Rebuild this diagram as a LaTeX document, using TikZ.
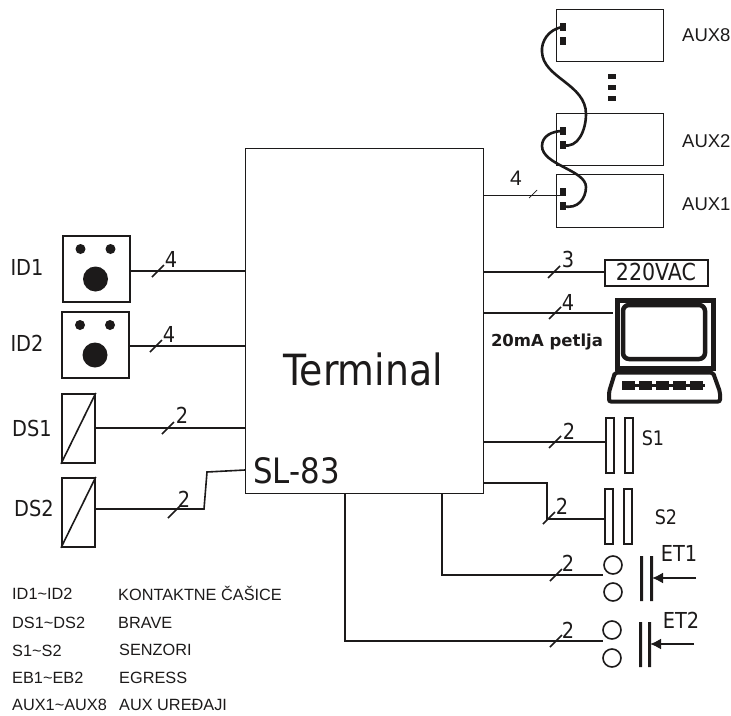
\documentclass[tikz,border=0pt]{standalone}
\usepackage{fontspec}
\setmainfont{Liberation Sans}
\newfontfamily\tahfont{DejaVu Sans}[FakeStretch=0.88]
\newfontfamily\wideboldfont{DejaVu Sans}
\usepackage{tikz}
\usetikzlibrary{arrows.meta,positioning,calc}
\definecolor{ink}{HTML}{1C1A1A}

\begin{document}
\begin{tikzpicture}[
    x=1pt, y=-1pt,
    every node/.style={inner sep=0pt, text=ink},
    box/.style={rectangle, draw=ink, line width=1.2pt, anchor=north west, inner sep=0pt},
    reader/.style={box, line width=1.8pt, minimum width=67pt, minimum height=66pt},
    lock/.style={box, line width=1.8pt, minimum width=33pt, minimum height=69pt},
    auxbox/.style={box, minimum width=107pt, minimum height=52pt},
    port/.style={rectangle, fill=ink, minimum width=6.5pt, minimum height=8pt},
    plate/.style={box, line width=1.7pt, minimum width=8pt, minimum height=55pt},
    contact/.style={circle, draw=ink, line width=1.6pt, minimum size=18pt},
    label/.style={font=\tahfont\fontsize{22}{24}\selectfont},
    auxlabel/.style={font=\fontsize{18.5}{20}\selectfont, anchor=west},
    legend/.style={font=\fontsize{16.3}{18}\selectfont, anchor=west},
    wire/.style={draw=ink, line width=1.6pt},
    heavy/.style={draw=ink, line width=2.8pt},
    cable/.style={draw=ink, line width=2.6pt, line cap=round},
    tick/.style={draw=ink, line width=1.7pt}
]
    \useasboundingbox (0,0) rectangle (731,715);

    % terminal
    \node [box, line width=0.9pt, minimum width=238pt, minimum height=345pt] (term) at (245,148) {};
    \node [font=\tahfont\fontsize{43}{46}\selectfont] (termname) at (363,369) {Terminal};
    \node [font=\tahfont\fontsize{35}{38}\selectfont, anchor=west] (termtype) at (253,471) {SL-83};

    % readers
    \node [reader] (id1) at (62,235) {};
    \node [reader] (id2) at (61,311) {};
    \foreach \n/\x/\y in {id1/95.5/249, id2/95/325} {
        \fill [ink] (\x-15,\y) circle (5);
        \fill [ink] (\x+15,\y) circle (5);
        \fill [ink] (\x,\y+30) circle (12.5);
    }
    \node [label] (id1name) at (27,267) {ID1};
    \node [label] (id2name) at (27,343) {ID2};

    % locks
    \node [lock] (ds1) at (61,393) {};
    \node [lock] (ds2) at (61,477) {};
    \draw [wire] (ds1.south west) -- (ds1.north east);
    \draw [wire] (ds2.south west) -- (ds2.north east);
    \node [label] (ds1name) at (32,428) {DS1};
    \node [label] (ds2name) at (34,508) {DS2};

    % aux chain
    \node [auxbox] (aux8) at (556,9) {};
    \node [auxbox] (aux2) at (556,113) {};
    \node [auxbox, minimum height=53pt] (aux1) at (556,174) {};
    \node [port] (p8a) at (563,27) {};
    \node [port] (p8b) at (563,41) {};
    \node [port] (p2a) at (563,131) {};
    \node [port] (p2b) at (563,145) {};
    \node [port] (p1a) at (563,192) {};
    \node [port] (p1b) at (563,206) {};
    \foreach \y in {76,87,98}
        \fill [ink] (608,\y-2.5) rectangle (616,\y+2.5);
    \node [auxlabel] (aux8name) at (682,35) {AUX8};
    \node [auxlabel] (aux2name) at (682,141) {AUX2};
    \node [auxlabel] (aux1name) at (682,204) {AUX1};
    \draw [cable] (p8a.center) .. controls (548,29) and (541,42) .. (542,52)
        .. controls (543,78) and (586,84) .. (586,114)
        .. controls (586,130) and (578,149) .. (p2b.center);
    \draw [cable] (p2a.center) .. controls (552,131) and (542,136) .. (542,146)
        .. controls (542,165) and (586,170) .. (586,187)
        .. controls (586,198) and (578,210) .. (p1b.center);

    % power and pc
    \node [box, line width=1.8pt, minimum width=103pt, minimum height=26pt] (mains) at (604,259) {};
    \node [font=\tahfont\fontsize{23.4}{25}\selectfont] (mainsname) at (656,272) {220VAC};
    \node [box, line width=4.5pt, minimum width=96pt, minimum height=68pt] (screen) at (615,298) {};
    \draw [draw=ink, line width=4.5pt, rounded corners=6pt] (623,305) rectangle (705,359);
    \draw [draw=ink, line width=4pt, rounded corners=2pt] (615,372.5) -- (713,372.5) -- (720,392) -- (720,401.5) -- (609,401.5) -- (609,392) -- cycle;
    \fill [ink] (622,383.5) rectangle (705,386.5);
    \foreach \x in {622,639,656,673,690} {
        \fill [ink] (\x,380.5) rectangle (\x+13,384);
        \fill [ink] (\x,386) rectangle (\x+13,390);
    }
    \node [font=\wideboldfont\bfseries\fontsize{16.5}{18}\selectfont] (petlja) at (547,342) {20mA petlja};

    % sensors
    \node [plate] (s1a) at (605,417) {};
    \node [plate] (s1b) at (624,417) {};
    \node [plate] (s2a) at (604,488) {};
    \node [plate] (s2b) at (623,488) {};
    \node [label, font=\tahfont\fontsize{20}{22}\selectfont] (s1name) at (653,438) {S1};
    \node [label, font=\tahfont\fontsize{20}{22}\selectfont] (s2name) at (666,517) {S2};

    % egress
    \node [contact] (e1a) at (613,565) {};
    \node [contact] (e1b) at (613,592) {};
    \node [contact] (e2a) at (612,630) {};
    \node [contact] (e2b) at (612,658) {};
    \fill [ink] (640,556) rectangle (643,601) (650,556) rectangle (653,601);
    \fill [ink] (639,622) rectangle (642,667) (648,622) rectangle (651,667);
    \coordinate (b1) at (696,578);
    \coordinate (b2) at (694,644);
    \draw [wire, line width=1.8pt, -{Latex[length=11pt,width=11pt]}] (b1) -- (652,578);
    \draw [wire, line width=1.8pt, -{Latex[length=11pt,width=11pt]}] (b2) -- (650,644);
    \node [label] (et1name) at (679,553) {ET1};
    \node [label] (et2name) at (681,620) {ET2};

    % connectors
    \draw [heavy] (id1.east |- 0,271) -- (245,271);
    \draw [heavy] (id2.east |- 0,346) -- (245,346);
    \draw [wire] (ds1.east |- 0,428) -- (245,428);
    \draw [wire] (ds2.east |- 0,509) -- (204,509) -- (207,472) -- (245,470);
    \draw [wire, line width=1pt] (483,195) -- (p1a.west |- 0,195);
    \draw [wire] (483,272) -- (mains.west |- 0,272);
    \draw [wire] (483,313) -- (613,313);
    \draw [wire] (483,442) -- (s1a.west |- 0,442);
    \draw [wire] (483,483) -- (547,483) -- (547,519) -- (s2a.west |- 0,519);
    \draw [wire] (442,493) -- (442,575) -- (603,575);
    \draw [wire] (345,493) -- (345,641) -- (603,641);

    % bus marks
    \foreach \x/\y/\lx/\ly/\n in {158/271/171/259/4, 156/346/169/334/4, 168/428/182/415/2, 174/512/184/499/2,
        554/272/568/259/3, 555/313/568/302/4, 555/442/569/431/2, 549/518/562/506/2, 556/575/568/563/2, 556/641/568/630/2} {
        \draw [tick] (\x-6,\y+6) -- (\x+6,\y-6);
        \node [label] at (\lx,\ly) {\n};
    }
    \draw [wire, line width=0.7pt] (529,198) -- (537,190);
    \node [font=\fontsize{21}{23}\selectfont] (auxbus) at (516,178) {4};

    % legend
    \node [legend] (k1) at (12,594) {ID1\textasciitilde ID2};
    \node [legend] (k2) at (12,623) {DS1\textasciitilde DS2};
    \node [legend] (k3) at (12,651) {S1\textasciitilde S2};
    \node [legend] (k4) at (12,678) {EB1\textasciitilde EB2};
    \node [legend] (k5) at (12,705) {AUX1\textasciitilde AUX8};
    \node [legend] (v1) at (118,593) {KONTAKTNE ČAŠICE};
    \node [legend] (v2) at (118,623) {BRAVE};
    \node [legend] (v3) at (119,650) {SENZORI};
    \node [legend] (v4) at (119,678) {EGRESS};
    \node [legend] (v5) at (119,705) {AUX UREĐAJI};
\end{tikzpicture}
\end{document}
